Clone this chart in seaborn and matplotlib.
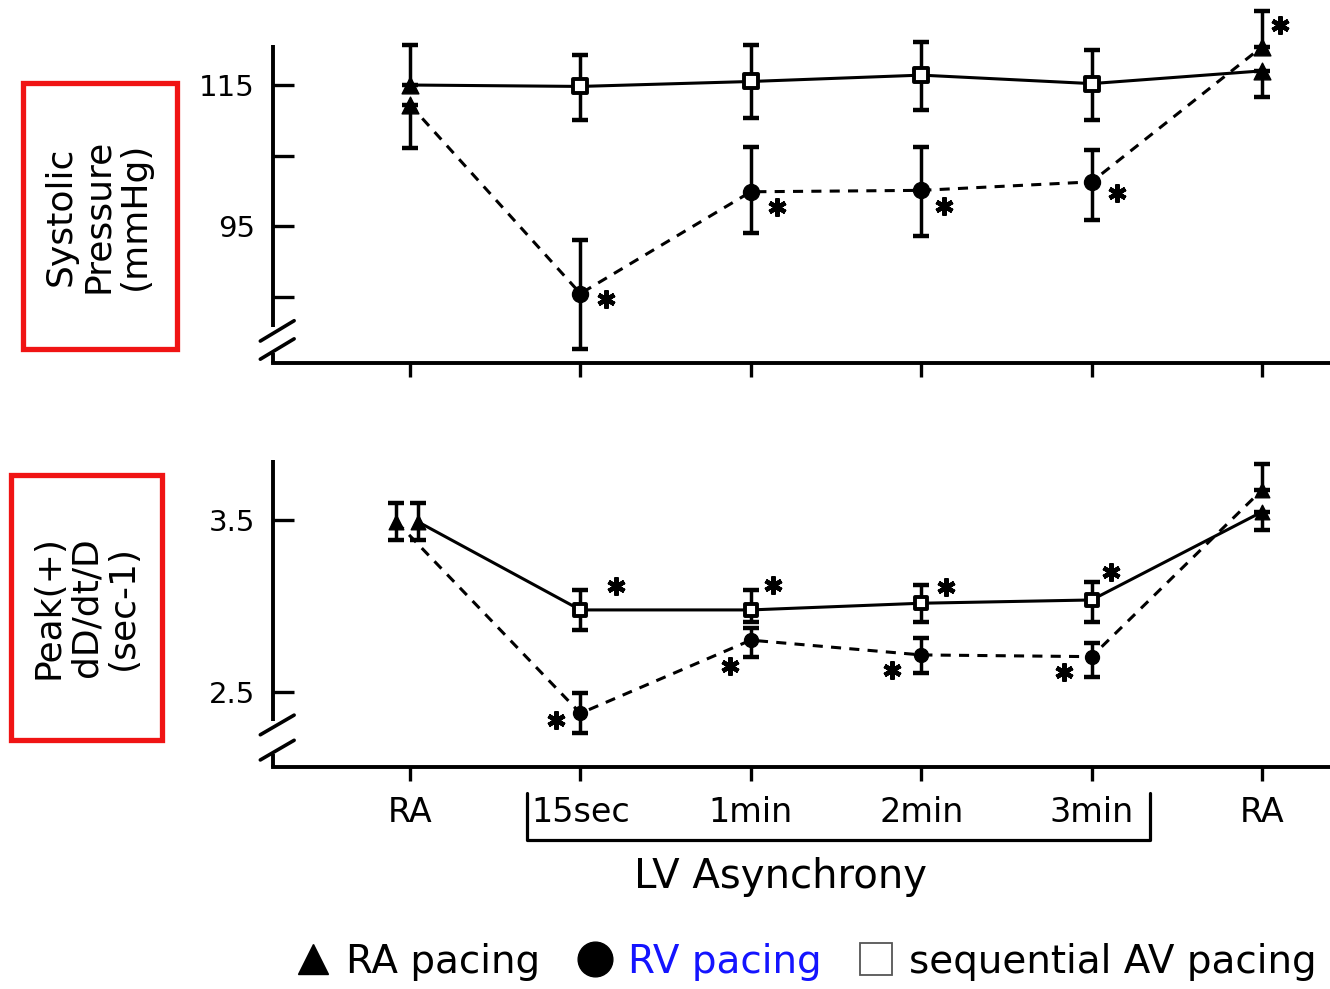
import numpy as np
import pandas as pd
import seaborn as sns
import matplotlib
matplotlib.use("Agg")
import matplotlib.pyplot as plt
from matplotlib.lines import Line2D
from matplotlib.patches import Rectangle
from matplotlib.transforms import ScaledTranslation

# ---------------------------------------------------------------- data
categories = ["RA", "15sec", "1min", "2min", "3min", "RA"]
phase = ["RA", "paced", "paced", "paced", "paced", "RA"]

# Systolic pressure (mmHg): sequential AV pacing vs RV pacing
sys_av = [115.0, 114.8, 115.5, 116.4, 115.2, 117.0]
sys_av_err_lo = [0.0, 4.7, 5.2, 5.0, 5.2, 3.7]
sys_av_err_hi = [5.7, 4.5, 5.2, 4.7, 4.7, 0.0]
sys_rv = [112.2, 85.5, 99.9, 100.1, 101.3, 120.4]
sys_rv_err_lo = [6.1, 7.8, 5.9, 6.4, 5.4, 0.0]
sys_rv_err_hi = [0.0, 7.6, 6.4, 6.1, 4.5, 5.1]
sys_rv_signif = [False, True, True, True, True, True]

# Peak (+) dD/dt/D (sec-1)
dd_av = [3.49, 2.976, 2.976, 3.015, 3.034, 3.547]
dd_av_err_lo = [0.108, 0.117, 0.07, 0.107, 0.126, 0.105]
dd_av_err_hi = [0.108, 0.117, 0.115, 0.107, 0.107, 0.0]
dd_rv = [3.49, 2.374, 2.80, 2.714, 2.704, 3.675]
dd_rv_err_lo = [0.108, 0.117, 0.10, 0.107, 0.117, 0.0]
dd_rv_err_hi = [0.108, 0.117, 0.07, 0.097, 0.078, 0.15]
dd_av_signif = [False, True, True, True, True, False]
dd_rv_signif = [False, True, True, True, True, False]

# ---------------------------------------------------------------- style
sns.set_theme(style="ticks")
plt.rcParams["font.family"] = ["DejaVu Sans"]
for key in ("text.color", "axes.labelcolor", "xtick.color", "ytick.color",
            "axes.edgecolor"):
    plt.rcParams[key] = "black"

W, H = 1330, 989
fig = plt.figure(figsize=(W / 100, H / 100), dpi=100)
fig.patch.set_facecolor("white")

LW = 2.2
DASH = (0, (3.3, 2.7))
x = np.arange(len(categories), dtype=float)


def fx(px):
    return px / W


def fy(py):
    return 1 - py / H


def draw_panel(ax, av, av_lo, av_hi, rv, rv_lo, rv_hi, rv_dodge, av_dodge, ms):
    xa = x + np.array(av_dodge)
    xr = x + np.array(rv_dodge)
    df_av = pd.DataFrame({"x": xa, "y": av, "phase": phase})
    df_rv = pd.DataFrame({"x": xr, "y": rv, "phase": phase})

    sns.lineplot(data=df_rv, x="x", y="y", ax=ax, color="black", lw=LW,
                 linestyle=DASH, errorbar=None, sort=False, zorder=2)
    sns.lineplot(data=df_av, x="x", y="y", ax=ax, color="black", lw=LW,
                 errorbar=None, sort=False, zorder=2)

    for xx, yy, lo, hi in ((xa, av, av_lo, av_hi), (xr, rv, rv_lo, rv_hi)):
        ax.errorbar(xx, yy, yerr=[lo, hi], fmt="none", ecolor="black",
                    elinewidth=2.5, capsize=5.5, capthick=3.2, zorder=3,
                    clip_on=False)

    s = ms ** 2
    base_av = df_av[df_av.phase == "RA"]
    base_rv = df_rv[df_rv.phase == "RA"]
    sns.scatterplot(data=pd.concat([base_av, base_rv]), x="x", y="y", ax=ax,
                    marker="^", s=s * 1.1, color="black", edgecolor="black",
                    linewidth=1, zorder=4, legend=False, clip_on=False)
    sns.scatterplot(data=df_rv[df_rv.phase == "paced"], x="x", y="y", ax=ax,
                    marker="o", s=s, color="black", edgecolor="black",
                    linewidth=1, zorder=4, legend=False, clip_on=False)
    sns.scatterplot(data=df_av[df_av.phase == "paced"], x="x", y="y", ax=ax,
                    marker="s", s=s * 0.85, facecolor="white",
                    edgecolor="black", linewidth=2.8, zorder=5, legend=False,
                    clip_on=False)


def star(ax, xv, yv, dx_px, dy_px):
    tr = ax.transData + ScaledTranslation(dx_px / 100, dy_px / 100,
                                          fig.dpi_scale_trans)
    ax.plot([xv], [yv], marker=(6, 2, 0), ms=13, mew=3.2, color="black",
            transform=tr, clip_on=False, zorder=6)


def style_axis(ax, ylim, yticks, ylabels, break_ys, show_xlabels):
    ax.set_xlim(-0.804, 5.399)
    ax.set_ylim(*ylim)
    ax.set_xlabel("")
    ax.set_ylabel("")
    for side in ("top", "right", "left"):
        ax.spines[side].set_visible(False)
    ax.spines["bottom"].set_linewidth(2.8)
    ax.spines["bottom"].set_color("black")
    ax.set_xticks(x)
    ax.set_xticklabels(categories if show_xlabels else [""] * len(x))
    ax.tick_params(axis="x", direction="out", length=10, width=2.4,
                   pad=11, labelsize=24, colors="black")
    ax.set_yticks(yticks)
    ax.set_yticklabels(ylabels)
    ax.tick_params(axis="y", direction="in", length=15, width=2.4,
                   pad=13, labelsize=21, colors="black")
    # left axis line with a break near the bottom
    b1, b2 = break_ys
    ax.plot([0, 0], [b1 + 0.012, 1], transform=ax.transAxes, color="black",
            lw=2.8, clip_on=False, solid_capstyle="butt")
    ax.plot([0, 0], [0, b2 - 0.012], transform=ax.transAxes, color="black",
            lw=2.8, clip_on=False, solid_capstyle="butt")
    for yb in break_ys:
        ax.plot([-0.012, 0.02], [yb - 0.032, yb + 0.032],
                transform=ax.transAxes, color="black", lw=2.6, clip_on=False)


# ---------------------------------------------------------------- top panel
ax1 = fig.add_axes([fx(273), fy(363), fx(1330 - 273), (363 - 45) / H])
ax1.set_facecolor("white")
draw_panel(ax1, sys_av, sys_av_err_lo, sys_av_err_hi,
           sys_rv, sys_rv_err_lo, sys_rv_err_hi,
           rv_dodge=[0] * 6, av_dodge=[0] * 6, ms=11.5)
style_axis(ax1, (75.68, 120.66), [85, 95, 105, 115], ["", "95", "", "115"],
           (0.101, 0.044), show_xlabels=False)
top_offsets = [None, (26, -5), (26, -15), (23, -16), (25, -11), (18, 22)]
for i, flag in enumerate(sys_rv_signif):
    if flag:
        star(ax1, x[i], sys_rv[i], *top_offsets[i])

# ---------------------------------------------------------------- bottom panel
ax2 = fig.add_axes([fx(273), fy(767), fx(1330 - 273), (767 - 460) / H])
ax2.set_facecolor("white")
draw_panel(ax2, dd_av, dd_av_err_lo, dd_av_err_hi,
           dd_rv, dd_rv_err_lo, dd_rv_err_hi,
           rv_dodge=[-0.08, 0, 0, 0, 0, 0], av_dodge=[0.045, 0, 0, 0, 0, 0],
           ms=10)
style_axis(ax2, (2.0614, 3.849), [2.5, 3.5], ["2.5", "3.5"],
           (0.137, 0.055), show_xlabels=True)
av_offsets = [None, (36, 24), (22, 25), (25, 16), (19, 28), None]
rv_offsets = [None, (-24, -7), (-21, -26), (-29, -15), (-28, -15), None]
for i in range(len(x)):
    if dd_av_signif[i]:
        star(ax2, x[i], dd_av[i], *av_offsets[i])
    if dd_rv_signif[i]:
        star(ax2, x[i], dd_rv[i], *rv_offsets[i])

# ---------------------------------------------------------------- bracket + caption
bx0, bx1 = fx(527), fx(1150)
by0, by1 = fy(793), fy(840)
fig.add_artist(Line2D([bx0, bx0, bx1, bx1], [by0, by1, by1, by0],
                      transform=fig.transFigure, color="black", lw=2.3))
fig.text(fx(781), fy(877), "LV Asynchrony", ha="center", va="center",
         fontsize=29, color="black")

# ---------------------------------------------------------------- boxed y labels
red = "#F01414"
fig.add_artist(Rectangle((fx(23), fy(349)), fx(177 - 23), (349 - 83) / H,
                         transform=fig.transFigure, fill=False,
                         edgecolor=red, lw=3.8))
fig.add_artist(Rectangle((fx(11), fy(740)), fx(162 - 11), (740 - 475) / H,
                         transform=fig.transFigure, fill=False,
                         edgecolor=red, lw=3.8))
fig.text(fx(98), fy(216), "Systolic\nPressure\n(mmHg)", rotation=90,
         ha="center", va="center", multialignment="center", fontsize=26,
         linespacing=1.12, color="black")
fig.text(fx(86), fy(607), "Peak(+)\ndD/dt/D\n(sec-1)", rotation=90,
         ha="center", va="center", multialignment="center", fontsize=26,
         linespacing=1.12, color="black")

# ---------------------------------------------------------------- legend
handles = [
    Line2D([], [], ls="none", marker="^", ms=22, color="black"),
    Line2D([], [], ls="none", marker="o", ms=25, color="black"),
    Line2D([], [], ls="none", marker="s", ms=23, markerfacecolor="white",
           markeredgecolor="#555555", markeredgewidth=1.3),
]
labels = ["RA pacing", "RV pacing", "sequential AV pacing"]
leg = fig.legend(handles, labels, ncol=3, loc="center",
                 bbox_to_anchor=(fx(805), fy(962)), frameon=False,
                 fontsize=28, handlelength=1.0, handletextpad=0.35,
                 columnspacing=0.9, borderaxespad=0, borderpad=0)
for t in leg.get_texts():
    t.set_color("black")
leg.get_texts()[1].set_color("#1414FF")

fig.savefig("out.png", dpi=100, facecolor="white")
